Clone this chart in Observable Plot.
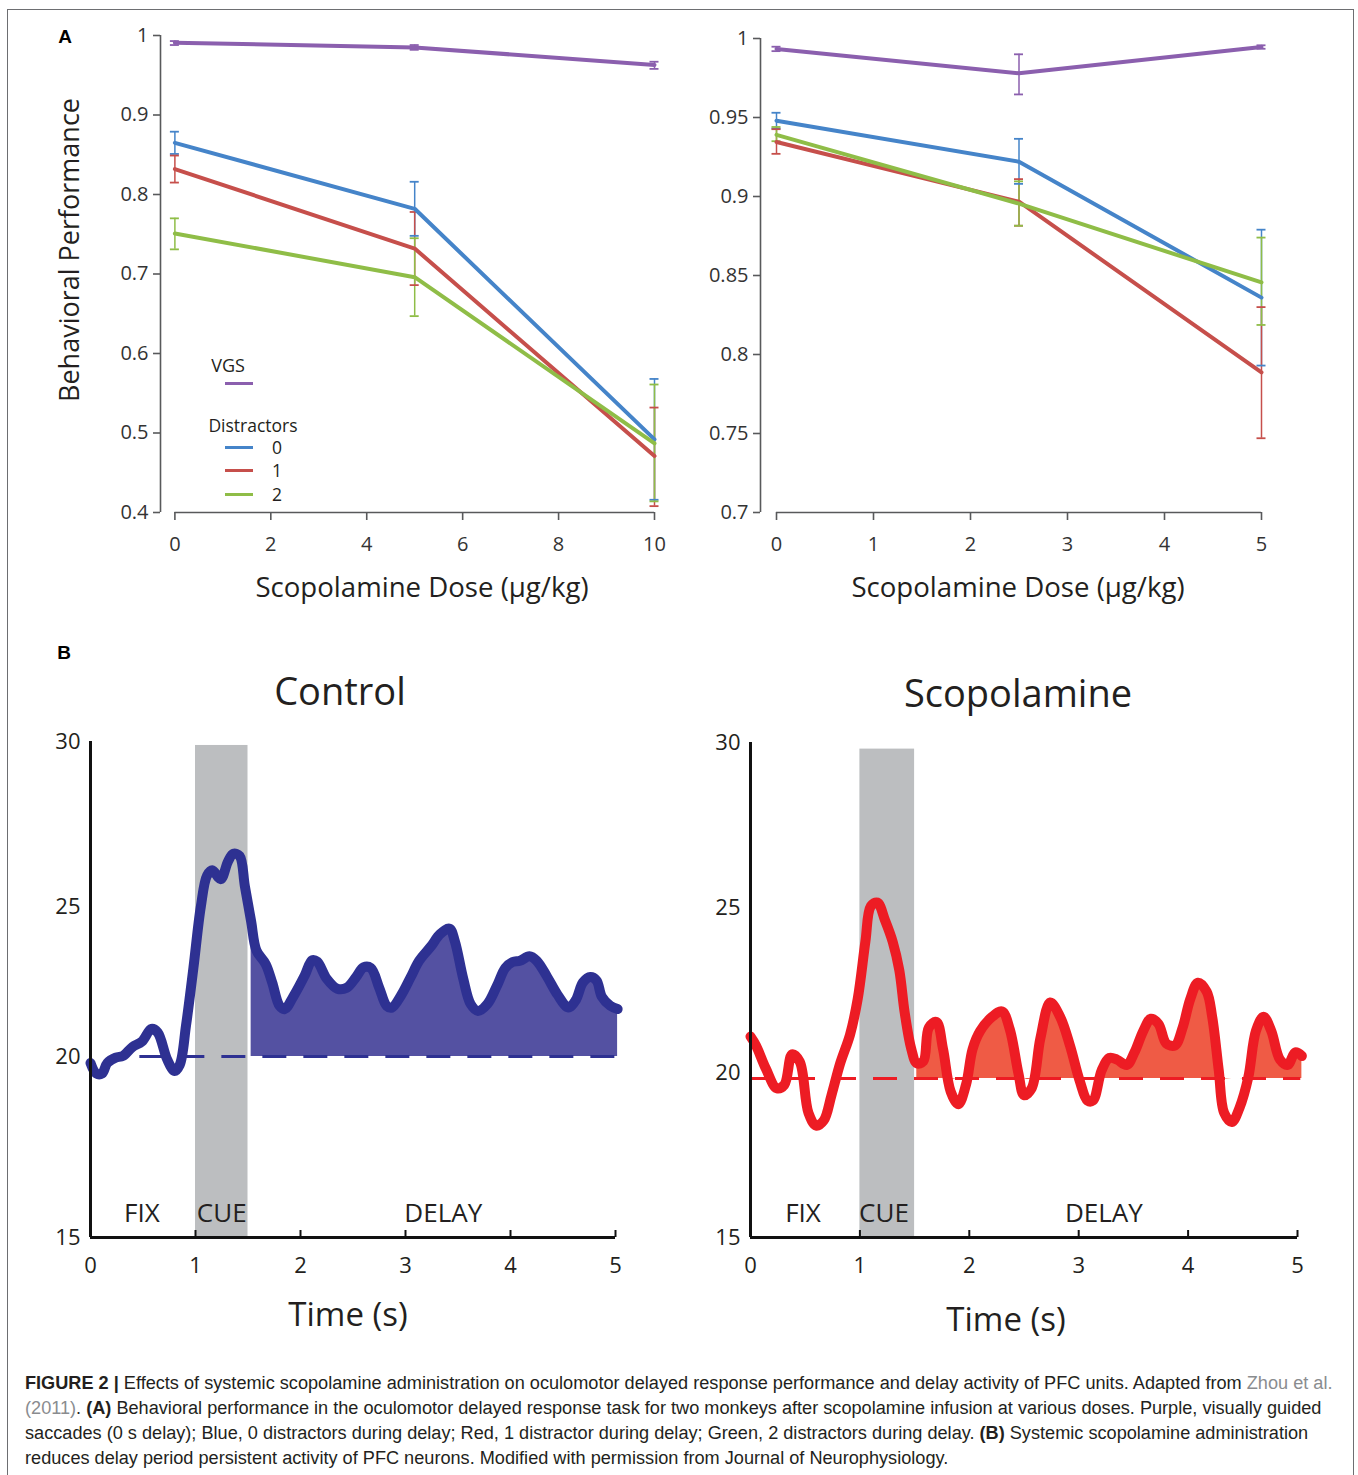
<!DOCTYPE html>
<html><head><meta charset="utf-8">
<script src="https://cdn.jsdelivr.net/npm/d3@7"></script>
<script src="https://cdn.jsdelivr.net/npm/@observablehq/plot@0.6"></script>
<style>
html,body{margin:0;padding:0;background:#fff;overflow:hidden}
#fig{position:relative;width:1358px;height:1475px;background:#fff;font-family:"Open Sans",sans-serif;color:#231f20;overflow:hidden}
.ctr{position:absolute;transform:translate(-50%,-50%);white-space:nowrap;line-height:1}
.plot{position:absolute}
.plot svg{display:block;overflow:visible;max-width:none}
.bl{position:absolute;height:3px}
#frame{position:absolute;left:7px;top:9px;width:1345px;height:1500px;border:1px solid #6d6e71;border-bottom:none;pointer-events:none}
#caption{position:absolute;left:25px;top:1371px;font-family:"Liberation Sans",Arial,sans-serif;font-size:18.15px;line-height:25px;white-space:nowrap;color:#231f20}
#caption .g{color:#8a8c8f}
</style></head>
<body><div id="fig"></div>
<script>
// ---------- Panel A data ----------
const seriesKeys = ["VGS", "0", "1", "2"];
const seriesColors = ["#8b5fae", "#4584c9", "#c64f4b", "#8fbd47"];

// Monkey 1 (left)
const doseM1 = [0, 5, 10];
const meanM1 = [[0.991, 0.985, 0.963], [0.865, 0.782, 0.492], [0.832, 0.732, 0.471], [0.751, 0.696, 0.487]];
const lowM1  = [[0.988, 0.982, 0.958], [0.851, 0.748, 0.416], [0.815, 0.686, 0.408], [0.731, 0.647, 0.414]];
const highM1 = [[0.993, 0.988, 0.967], [0.879, 0.816, 0.568], [0.849, 0.778, 0.532], [0.770, 0.745, 0.561]];
const xTicksM1 = [0, 2, 4, 6, 8, 10];
const yTicksM1 = [0.4, 0.5, 0.6, 0.7, 0.8, 0.9, 1];

// Monkey 2 (right)
const doseM2 = [0, 2.5, 5];
const meanM2 = [[0.9934, 0.978, 0.9946], [0.948, 0.922, 0.836], [0.9345, 0.8967, 0.7887], [0.939, 0.8955, 0.8456]];
const lowM2  = [[0.992, 0.9646, 0.9935], [0.943, 0.908, 0.793], [0.927, 0.8815, 0.747], [0.935, 0.8815, 0.8187]];
const highM2 = [[0.9948, 0.990, 0.9957], [0.953, 0.9365, 0.879], [0.9426, 0.911, 0.830], [0.944, 0.9096, 0.874]];
const xTicksM2 = [0, 1, 2, 3, 4, 5];
const yTicksM2 = [0.7, 0.75, 0.8, 0.85, 0.9, 0.95, 1];

// ---------- Panel B data ----------
const timeTicks = [0, 1, 2, 3, 4, 5];
const rateTicks = [15, 20, 25, 30];
const epochNames = ["FIX", "CUE", "DELAY"];
const cueWindow = [1, 1.5];

const ctrlT = [0, 0.055, 0.11, 0.16, 0.24, 0.31, 0.40, 0.49, 0.58, 0.64, 0.73, 0.80, 0.85, 0.91, 0.98, 1.05, 1.11, 1.16, 1.24, 1.31, 1.36, 1.42, 1.47, 1.53, 1.58, 1.67, 1.73, 1.80, 1.85, 1.93, 2.04, 2.11, 2.16, 2.25, 2.35, 2.44, 2.53, 2.60, 2.67, 2.75, 2.82, 2.87, 2.96, 3.05, 3.13, 3.24, 3.33, 3.42, 3.47, 3.55, 3.62, 3.69, 3.78, 3.87, 3.95, 4.02, 4.09, 4.18, 4.25, 4.35, 4.45, 4.55, 4.62, 4.69, 4.76, 4.82, 4.87, 4.95, 5.02];
const ctrlRate = [19.82, 19.53, 19.53, 19.82, 19.97, 20.02, 20.32, 20.5, 20.92, 20.8, 19.92, 19.6, 19.77, 21.04, 22.95, 24.98, 25.94, 26.1, 25.83, 26.37, 26.6, 26.53, 25.62, 24.5, 23.54, 23.07, 22.47, 21.69, 21.58, 21.99, 22.7, 23.21, 23.16, 22.59, 22.26, 22.29, 22.65, 22.97, 22.95, 22.29, 21.69, 21.63, 22.05, 22.65, 23.19, 23.66, 24.08, 24.26, 23.84, 22.59, 21.75, 21.52, 21.75, 22.35, 22.95, 23.15, 23.19, 23.34, 23.19, 22.65, 22.05, 21.63, 21.87, 22.47, 22.65, 22.53, 21.99, 21.69, 21.58];
const ctrlBaseline = 20;
const ctrlLabelX = [0.49, 1.25, 3.36];

const scopT = [0, 0.05, 0.14, 0.24, 0.31, 0.38, 0.45, 0.53, 0.60, 0.67, 0.74, 0.82, 0.91, 0.98, 1.05, 1.10, 1.16, 1.23, 1.30, 1.36, 1.41, 1.47, 1.52, 1.58, 1.63, 1.70, 1.76, 1.83, 1.90, 1.97, 2.03, 2.10, 2.21, 2.30, 2.37, 2.45, 2.50, 2.57, 2.65, 2.74, 2.83, 2.92, 3.01, 3.08, 3.13, 3.21, 3.28, 3.35, 3.44, 3.51, 3.59, 3.66, 3.73, 3.80, 3.88, 3.95, 4.02, 4.09, 4.17, 4.22, 4.28, 4.33, 4.40, 4.47, 4.55, 4.62, 4.69, 4.76, 4.84, 4.91, 4.98, 5.04];
const scopRate = [21.09, 20.82, 20.12, 19.52, 19.63, 20.55, 20.33, 18.77, 18.39, 18.55, 19.31, 20.28, 21.15, 22.23, 23.96, 25.04, 25.15, 24.61, 23.96, 23.1, 21.8, 20.71, 20.28, 20.34, 21.36, 21.53, 20.71, 19.42, 19.04, 19.63, 20.71, 21.26, 21.69, 21.85, 21.31, 19.96, 19.31, 19.52, 21.04, 22.12, 21.69, 20.82, 19.74, 19.15, 19.15, 20.07, 20.44, 20.39, 20.23, 20.61, 21.26, 21.63, 21.47, 20.88, 20.82, 21.36, 22.23, 22.72, 22.45, 21.69, 20.07, 18.77, 18.5, 18.93, 19.85, 21.26, 21.69, 21.26, 20.39, 20.23, 20.61, 20.5];
const scopBaseline = 19.82;
const scopLabelX = [0.48, 1.22, 3.23];

// ---------- builders ----------
const fig = document.getElementById("fig");
function place(node, left, top) {
  const d = document.createElement("div");
  d.className = "plot"; d.style.left = left + "px"; d.style.top = top + "px";
  d.appendChild(node); fig.appendChild(d);
}
function label(text, x, y, style) {
  const d = document.createElement("div");
  d.className = "ctr"; d.textContent = text;
  d.style.left = x + "px"; d.style.top = y + "px";
  Object.assign(d.style, style || {});
  fig.appendChild(d); return d;
}

function buildA(cfg) {
  const rows = [];
  cfg.mean.forEach((arr, si) => arr.forEach((m, i) => rows.push({
    series: seriesKeys[si], dose: cfg.dose[i], mean: m, lo: cfg.lo[si][i], hi: cfg.hi[si][i]
  })));
  const ac = "#58595b";
  return Plot.plot({
    width: cfg.width, height: 620,
    marginLeft: cfg.ml, marginRight: cfg.mr, marginTop: cfg.mt, marginBottom: 108,
    style: {fontFamily: "'Open Sans', sans-serif", fontSize: "20px", color: "#333", background: "none", overflow: "visible"},
    x: {domain: cfg.xDomain},
    y: {domain: [cfg.yTicks[0], cfg.yTicks[cfg.yTicks.length - 1]]},
    color: {domain: seriesKeys, range: seriesColors},
    marks: [
      Plot.ruleX([cfg.xDomain[0]], {y1: cfg.yTicks[0], y2: cfg.yTicks[cfg.yTicks.length - 1], stroke: ac, strokeWidth: 1.6}),
      Plot.ruleY([cfg.yTicks[0]], {x1: cfg.xTicks[0], x2: cfg.xTicks[cfg.xTicks.length - 1], stroke: ac, strokeWidth: 1.6}),
      Plot.axisY({ticks: cfg.yTicks, label: null, tickSize: 7, tickPadding: 5, tickFormat: d => String(d), stroke: ac, strokeWidth: 1.6, fill: "#333", fontSize: 20}),
      Plot.axisX({ticks: cfg.xTicks, label: null, tickSize: 8, tickPadding: 16, tickFormat: d => String(d), stroke: ac, strokeWidth: 1.6, fill: "#333", fontSize: 20}),
      Plot.ruleX(rows, {x: "dose", y1: "lo", y2: "hi", stroke: "series", strokeWidth: 1.5}),
      Plot.ruleY(rows, {y: "lo", x1: "dose", x2: "dose", insetLeft: -4.5, insetRight: -4.5, stroke: "series", strokeWidth: 1.8}),
      Plot.ruleY(rows, {y: "hi", x1: "dose", x2: "dose", insetLeft: -4.5, insetRight: -4.5, stroke: "series", strokeWidth: 1.8}),
      Plot.line(rows, {x: "dose", y: "mean", z: "series", stroke: "series", strokeWidth: 4, strokeLinejoin: "round"})
    ]
  });
}

function buildB(cfg) {
  const rows = cfg.t.map((t, i) => ({t, v: cfg.v[i]}));
  const delay = rows.filter(d => d.t >= cfg.fillFrom);
  const yMin = cfg.yDomain[0], yMax = cfg.yDomain[cfg.yDomain.length - 1];
  return Plot.plot({
    width: cfg.width, height: 740,
    marginLeft: cfg.ml, marginRight: cfg.mr, marginTop: cfg.mt, marginBottom: 123,
    style: {fontFamily: "'Open Sans', sans-serif", fontSize: "22px", color: "#231f20", background: "none", overflow: "visible"},
    x: {domain: [timeTicks[0], timeTicks[timeTicks.length - 1]]},
    y: {type: "linear", domain: cfg.yDomain, range: cfg.yRange},
    marks: [
      Plot.rect([cueWindow], {x1: d => d[0], x2: d => d[1], y1: yMin, y2: cfg.cueTop, fill: "#bcbec0"}),
      Plot.areaY(delay, {x: "t", y1: cfg.base, y2: d => Math.max(d.v, cfg.base), fill: cfg.fill, curve: "catmull-rom"}),
      Plot.ruleY([cfg.base], {x1: cfg.dash[0], x2: cfg.dash[1], stroke: cfg.stroke, strokeWidth: 3, strokeDasharray: "24,17"}),
      Plot.line(rows, {x: "t", y: "v", stroke: cfg.stroke, strokeWidth: 10, curve: "catmull-rom", strokeLinejoin: "round"}),
      Plot.text(epochNames, {x: (d, i) => cfg.labelX[i], frameAnchor: "bottom", dy: -16, fontSize: 26, fill: "#231f20"}),
      Plot.ruleX([timeTicks[0]], {y1: yMin, y2: yMax, stroke: "#111", strokeWidth: 3}),
      Plot.ruleY([yMin], {x1: timeTicks[0], x2: timeTicks[timeTicks.length - 1], stroke: "#111", strokeWidth: 3}),
      Plot.axisY({ticks: rateTicks, label: null, tickSize: 0, tickPadding: 10, tickFormat: d => String(d), fontSize: 22, fill: "#231f20"}),
      Plot.axisX({ticks: timeTicks, label: null, tickSize: -7, tickPadding: 27, tickFormat: d => String(d), fontSize: 22, fill: "#231f20", stroke: "#111", strokeWidth: 2})
    ]
  });
}

// ---------- Panel A ----------
place(buildA({dose: doseM1, mean: meanM1, lo: lowM1, hi: highM1, xTicks: xTicksM1, yTicks: yTicksM1,
  xDomain: [-0.3, 10], width: 680, ml: 160, mr: 26, mt: 35}), 0, 0);
place(buildA({dose: doseM2, mean: meanM2, lo: lowM2, hi: highM2, xTicks: xTicksM2, yTicks: yTicksM2,
  xDomain: [-0.165, 5], width: 678, ml: 80, mr: 97, mt: 38}), 680, 0);

// ---------- Panel B ----------
place(buildB({t: ctrlT, v: ctrlRate, base: ctrlBaseline, fillFrom: 1.5, cueTop: 29.88, dash: [0.47, 5.02],
  labelX: ctrlLabelX, stroke: "#2e3192", fill: "#5451a2", width: 680, ml: 90, mr: 65, mt: 121,
  yDomain: [15, 20, 25, 30], yRange: [617, 436, 286, 121]}), 0, 620);
place(buildB({t: scopT, v: scopRate, base: scopBaseline, fillFrom: 1.5, cueTop: 29.8, dash: [0, 5.03],
  labelX: scopLabelX, stroke: "#ed1c24", fill: "#ef5b45", width: 678, ml: 70, mr: 61, mt: 122,
  yDomain: [15, 30], yRange: [617, 122]}), 680, 620);

// ---------- text ----------
label("A", 65, 36, {fontFamily: "'Liberation Sans', Arial, sans-serif", fontWeight: "bold", fontSize: "19px", color: "#000"});
label("B", 64, 652, {fontFamily: "'Liberation Sans', Arial, sans-serif", fontWeight: "bold", fontSize: "19px", color: "#000"});
label("Scopolamine Dose (μg/kg)", 422, 587, {fontSize: "27.6px"});
label("Scopolamine Dose (μg/kg)", 1018, 587, {fontSize: "27.6px"});
label("Behavioral Performance", 68, 250, {fontSize: "27px", transform: "translate(-50%,-50%) rotate(-90deg)"});
label("Control", 340, 690, {fontSize: "38px"});
label("Scopolamine", 1018, 692, {fontSize: "38px"});
label("Time (s)", 348, 1313, {fontSize: "33px"});
label("Time (s)", 1006, 1318, {fontSize: "33px"});

// legend (panel A, left)
label("VGS", 228, 365, {fontSize: "18px"});
label("Distractors", 253, 426, {fontSize: "17.5px"});
const legendY = [383, 447, 470, 494];
seriesKeys.forEach((k, i) => {
  const b = document.createElement("div");
  b.className = "bl"; b.style.left = "225px"; b.style.width = "28px";
  b.style.top = (legendY[i] - 1.5) + "px"; b.style.background = seriesColors[i];
  fig.appendChild(b);
  if (i > 0) label(k, 277, legendY[i] + 1, {fontSize: "17.5px"});
});

// caption
const cap = document.createElement("div");
cap.id = "caption";
cap.innerHTML = '<b>FIGURE 2 |</b> Effects of systemic scopolamine administration on oculomotor delayed response performance and delay activity of PFC units. Adapted from <span class="g">Zhou et al.</span><br>' +
  '<span class="g">(2011)</span>. <b>(A)</b> Behavioral performance in the oculomotor delayed response task for two monkeys after scopolamine infusion at various doses. Purple, visually guided<br>' +
  'saccades (0 s delay); Blue, 0 distractors during delay; Red, 1 distractor during delay; Green, 2 distractors during delay. <b>(B)</b> Systemic scopolamine administration<br>' +
  'reduces delay period persistent activity of PFC neurons. Modified with permission from Journal of Neurophysiology.';
fig.appendChild(cap);

const fr = document.createElement("div"); fr.id = "frame"; fig.appendChild(fr);
</script></body></html>
